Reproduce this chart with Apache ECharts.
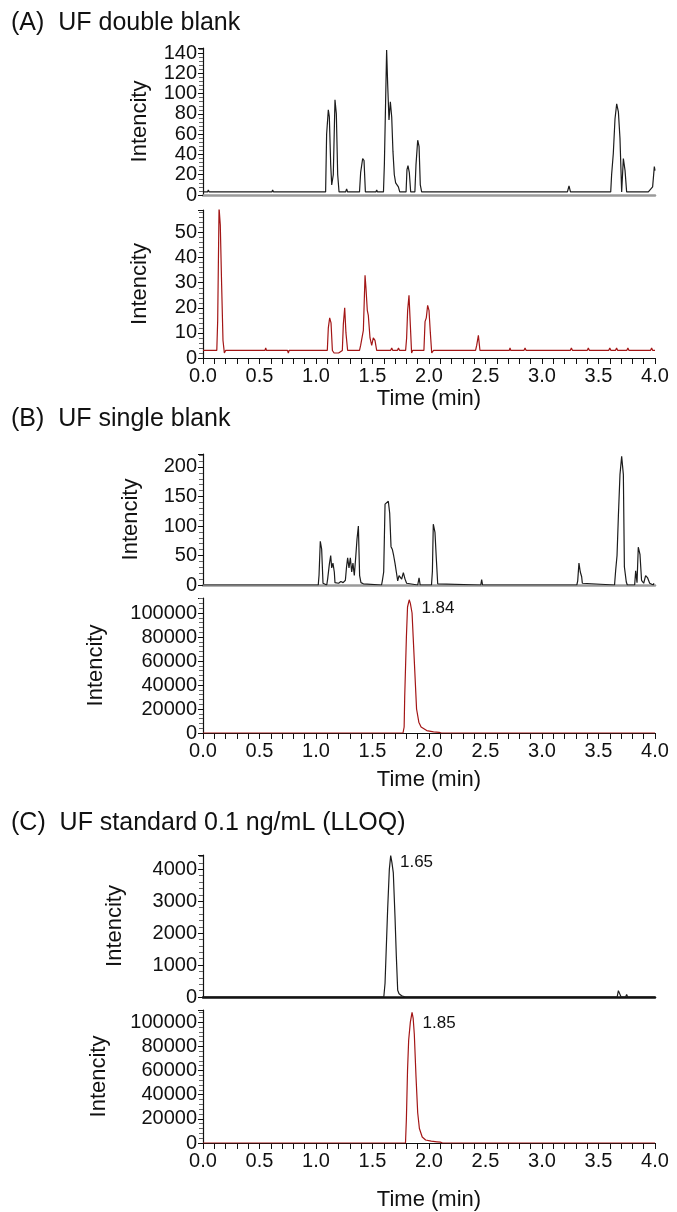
<!DOCTYPE html>
<html>
<head>
<meta charset="utf-8">
<script src="https://cdn.jsdelivr.net/npm/echarts@6/dist/echarts.min.js"></script>
<style>
html,body{margin:0;padding:0;background:#fff;}
#main{width:677px;height:1212px;}
</style>
</head>
<body>
<div id="main"></div>
<script>
var panelTitles = ['(A)  UF double blank', '(B)  UF single blank', '(C)  UF standard 0.1 ng/mL (LLOQ)'];
var yName = 'Intencity';
var xName = 'Time (min)';

// (A) double blank, upper trace
var aTopT = [0, 0.04, 0.047, 0.055, 0.61, 0.616, 0.625, 1.085, 1.094, 1.109, 1.118, 1.13, 1.139, 1.153, 1.168, 1.18, 1.192, 1.204,
  1.262, 1.271, 1.28, 1.385, 1.395, 1.413, 1.425, 1.437, 1.53, 1.537, 1.545, 1.597, 1.605, 1.617, 1.625, 1.634, 1.646, 1.658, 1.67,
  1.681, 1.693, 1.705, 1.717, 1.729, 1.741, 1.797, 1.805, 1.814, 1.826, 1.838, 1.875, 1.885, 1.9, 1.912, 1.923, 1.935,
  2.562, 2.569, 2.576, 3.225, 3.239, 3.252, 3.608, 3.616, 3.631, 3.646, 3.661, 3.676, 3.69, 3.705, 3.72, 3.735, 3.749,
  3.941, 3.979, 3.994, 4.0];
var aTopV = [3, 3, 5, 3, 3, 5, 3, 3, 60, 84, 77, 30, 10, 20, 94, 80, 20, 3,
  3, 6, 3, 3, 22, 36, 34, 3, 3, 5, 3, 3, 30, 98, 143, 110, 74, 92, 77,
  43, 20, 12, 10, 8, 3, 3, 25, 29, 22, 3, 3, 30, 54, 48, 10, 3,
  3, 4, 3, 3, 9, 3, 3, 20, 41, 75, 90, 82, 56, 3, 36, 24, 3,
  3, 8, 28, 24];

// (A) double blank, lower trace
var aBotT = [0, 0.122, 0.13, 0.142, 0.153, 0.165, 0.177, 0.189, 0.2, 0.548, 0.555, 0.562, 0.748, 0.755, 0.762,
  1.1, 1.109, 1.121, 1.133, 1.145, 1.16, 1.2, 1.233, 1.242, 1.254, 1.265, 1.28, 1.3, 1.385, 1.395, 1.419, 1.434, 1.442, 1.454,
  1.463, 1.478, 1.493, 1.507, 1.522, 1.537, 1.66, 1.67, 1.68, 1.72, 1.73, 1.74, 1.793, 1.802, 1.811, 1.823, 1.835, 1.846, 1.855,
  1.955, 1.965, 1.976, 1.988, 2.0, 2.012, 2.024, 2.04, 2.412, 2.422, 2.437, 2.451, 2.71, 2.717, 2.724, 2.84, 2.85, 2.86,
  3.25, 3.26, 3.27, 3.4, 3.41, 3.42, 3.59, 3.6, 3.61, 3.65, 3.66, 3.67, 3.75, 3.76, 3.77, 3.96, 3.97, 3.98, 4.0];
var aBotV = [3, 3, 15, 60, 53, 29, 7, 2, 3, 3, 4, 3, 3, 2, 3,
  3, 12, 16, 14, 3, 2, 2, 3, 13.5, 20, 10, 3, 3, 3, 5, 11, 33, 28, 19,
  17, 8, 5, 8, 7, 3, 3, 4, 3, 3, 4, 3, 3, 8, 19, 25, 13, 2, 3,
  3, 14.5, 16, 21, 19, 10, 2, 3, 3, 5, 9, 3, 3, 4, 3, 3, 4, 3,
  3, 4, 3, 3, 4, 3, 3, 4, 3, 3, 4, 3, 3, 4, 3, 3, 4, 3, 3];

// (B) single blank, upper trace
var bTopT = [0, 0.448, 0.454, 0.46, 1.02, 1.027, 1.038, 1.05, 1.062, 1.07, 1.095, 1.103, 1.118, 1.13, 1.139, 1.15, 1.162, 1.168,
  1.18, 1.2, 1.22, 1.24, 1.26, 1.27, 1.28, 1.292, 1.304, 1.316, 1.327, 1.339, 1.351, 1.363, 1.375, 1.386, 1.398, 1.419, 1.43,
  1.58, 1.587, 1.599, 1.611, 1.628, 1.64, 1.652, 1.664, 1.676, 1.687, 1.699, 1.711, 1.723, 1.735, 1.746, 1.758, 1.773, 1.788, 1.802, 1.81,
  1.9, 1.912, 1.922, 2.022, 2.03, 2.038, 2.053, 2.065, 2.077, 2.085, 2.458, 2.466, 2.474, 2.72, 2.726, 2.732,
  3.308, 3.316, 3.327, 3.339, 3.351, 3.357, 3.365, 3.642, 3.652, 3.664, 3.676, 3.69, 3.705, 3.72, 3.729, 3.746, 3.755,
  3.82, 3.829, 3.841, 3.852, 3.867, 3.881, 3.9, 3.917, 3.935, 3.953, 3.96, 3.985, 3.99, 4.0];
var bTopV = [0, 0, 2, 0, 0, 17, 74, 61, 3, 0, 0, 10, 35, 50, 29, 37, 22, 4,
  6, 3, 6, 4, 8, 30, 46, 29, 46, 22, 37, 16, 46, 78, 100, 16, 4, 2, 0,
  0, 7, 22, 137, 140, 142, 122, 65, 60, 50, 37, 22, 7, 16, 19, 10, 21, 10, 3, 0,
  0, 12, 0, 0, 23, 103, 89, 44, 2, 0, 0, 9, 0, 0, 2, 0,
  0, 7, 37, 22, 14, 3, 0, 0, 25, 50, 117, 187, 218, 187, 31, 5, 0,
  0, 24, 4, 64, 52, 8, 3, 16, 12, 3, 0, 0, 3, 0];

// (B) single blank, lower trace
var bBotT = [0, 1.77, 1.78, 1.785, 1.8, 1.81, 1.825, 1.835, 1.85, 1.86, 1.87, 1.89, 1.91, 1.93, 1.98, 2.04, 2.09, 2.11, 4.0];
var bBotV = [0, 0, 5000, 30000, 80000, 105000, 111000, 108000, 100000, 80000, 60000, 20000, 9000, 5000, 2000, 1000, 600, 0, 0];

// (C) LLOQ standard, upper trace
var cTopT = [0, 1.175, 1.183, 1.191, 1.38, 1.389, 1.397, 1.485, 1.493, 1.5, 1.6, 1.611, 1.634, 1.649, 1.661, 1.672, 1.684, 1.699,
  1.711, 1.723, 1.735, 1.758, 1.773, 1.79, 1.81, 1.817, 1.825, 1.853, 1.861, 1.87, 1.942, 1.95, 1.958, 2.032, 2.04, 2.048,
  3.417, 3.425, 3.433, 3.665, 3.676, 3.69, 3.7, 3.74, 3.749, 3.758, 4.0];
var cTopV = [0, 0, 60, 0, 0, 60, 0, 0, 60, 0, 0, 430, 2740, 4000, 4430, 4210, 3900, 2530,
  1270, 210, 100, 40, 60, 0, 0, 60, 0, 0, 60, 0, 0, 60, 0, 0, 60, 0,
  0, 60, 0, 0, 200, 150, 0, 0, 80, 0, 0];

// (C) LLOQ standard, lower trace
var cBotT = [0, 1.792, 1.8, 1.81, 1.82, 1.835, 1.85, 1.86, 1.87, 1.885, 1.9, 1.915, 1.94, 1.97, 2.02, 2.07, 2.1, 2.12, 4.0];
var cBotV = [0, 0, 20000, 60000, 85000, 100000, 108000, 103000, 90000, 55000, 25000, 12000, 5000, 2500, 1500, 1000, 700, 0, 0];

var peakPanels = [3, 4, 5];
var peakTimes = [1.84, 1.65, 1.85];
var peakLabels = ['1.84', '1.65', '1.85'];

var yMax = [145, 59, 222, 112500, 4450, 110000];
var yStep = [20, 10, 50, 20000, 1000, 20000];

(function () {
    var myChart = echarts.init(document.getElementById('main'));
    var font = '"Liberation Sans", Arial, Helvetica, sans-serif';
    var black = '#1c1c1c';
    var red = '#a31616';

    var traces = [[aTopT, aTopV], [aBotT, aBotV], [bTopT, bTopV], [bBotT, bBotV], [cTopT, cTopV], [cBotT, cBotV]];
    var colors = [black, red, black, red, black, red];
    // pixel boxes for the six panels
    var tops = [48, 210, 454, 598, 855, 1010];
    var heights = [147, 148, 131, 135, 142, 142];
    var nameGaps = [52, 52, 61, 96, 77, 93];
    var isBottom = [false, true, false, true, false, true];
    var xNameGaps = [0, 30, 0, 36, 0, 46];
    var labelOffsets = [[0, 4], [0, 0], [0, 7]];

    var grid = [], xAxis = [], yAxis = [], series = [];
    for (var i = 0; i < 6; i++) {
        grid.push({left: 203, width: 452, top: tops[i], height: heights[i]});
        var bottomLine = i == 4 ? {color: '#111', width: 2.5} : {color: '#9a9a9a', width: 2.5};
        xAxis.push({
            type: 'value', gridIndex: i, min: 0, max: 4, interval: 0.5,
            name: isBottom[i] ? xName : '',
            nameLocation: 'middle', nameGap: xNameGaps[i],
            nameTextStyle: {fontFamily: font, fontSize: 22, color: '#111'},
            axisLine: {show: true, onZero: false, lineStyle: isBottom[i] ? {color: '#111', width: 1.2} : bottomLine},
            axisTick: {show: isBottom[i], length: 6, lineStyle: {color: '#111'}},
            minorTick: {show: isBottom[i], splitNumber: 5, length: 6, lineStyle: {color: '#111'}},
            axisLabel: {show: isBottom[i], fontFamily: font, fontSize: 20, color: '#111', margin: 8,
                formatter: function (v) { return v.toFixed(1); }},
            splitLine: {show: false}
        });
        yAxis.push({
            type: 'value', gridIndex: i, min: 0, max: yMax[i], interval: yStep[i],
            name: yName, nameLocation: 'middle', nameRotate: 90, nameGap: nameGaps[i],
            nameTextStyle: {fontFamily: font, fontSize: 22, color: '#111'},
            axisLine: {show: true, lineStyle: {color: '#111', width: 1.2}},
            axisTick: {show: true, length: 5, lineStyle: {color: '#111'}},
            minorTick: {show: true, splitNumber: 5, length: 4, lineStyle: {color: '#666'}},
            axisLabel: {fontFamily: font, fontSize: 20, color: '#111', margin: 6, showMaxLabel: false,
                formatter: function (v) { return String(v); }},
            splitLine: {show: false}
        });
        var pts = [];
        for (var j = 0; j < traces[i][0].length; j++) {
            pts.push([traces[i][0][j], traces[i][1][j]]);
        }
        var s = {
            type: 'line', xAxisIndex: i, yAxisIndex: i, data: pts,
            showSymbol: false, symbol: 'none', silent: true,
            lineStyle: {color: colors[i], width: 1.2}
        };
        var k = peakPanels.indexOf(i);
        if (k >= 0) {
            s.markPoint = {
                symbol: 'circle', symbolSize: 1, silent: true,
                itemStyle: {color: 'rgba(0,0,0,0)'},
                label: {show: true, position: 'right', distance: 10, offset: labelOffsets[k], formatter: peakLabels[k],
                    fontFamily: font, fontSize: 17, color: '#111'},
                data: [{coord: [peakTimes[k], yMax[i] * 0.95]}]
            };
        }
        series.push(s);
    }

    var option = {
        animation: false,
        backgroundColor: '#fff',
        title: [
            {text: panelTitles[0], left: 6, top: 6},
            {text: panelTitles[1], left: 6, top: 402},
            {text: panelTitles[2], left: 6, top: 806}
        ].map(function (t) {
            t.textStyle = {fontFamily: font, fontSize: 25, fontWeight: 'normal', color: '#111'};
            return t;
        }),
        grid: grid,
        xAxis: xAxis,
        yAxis: yAxis,
        series: series
    };
    myChart.setOption(option);
    window.addEventListener('resize', function () {
        myChart.resize();
    });
})();
</script>
</body>
</html>
